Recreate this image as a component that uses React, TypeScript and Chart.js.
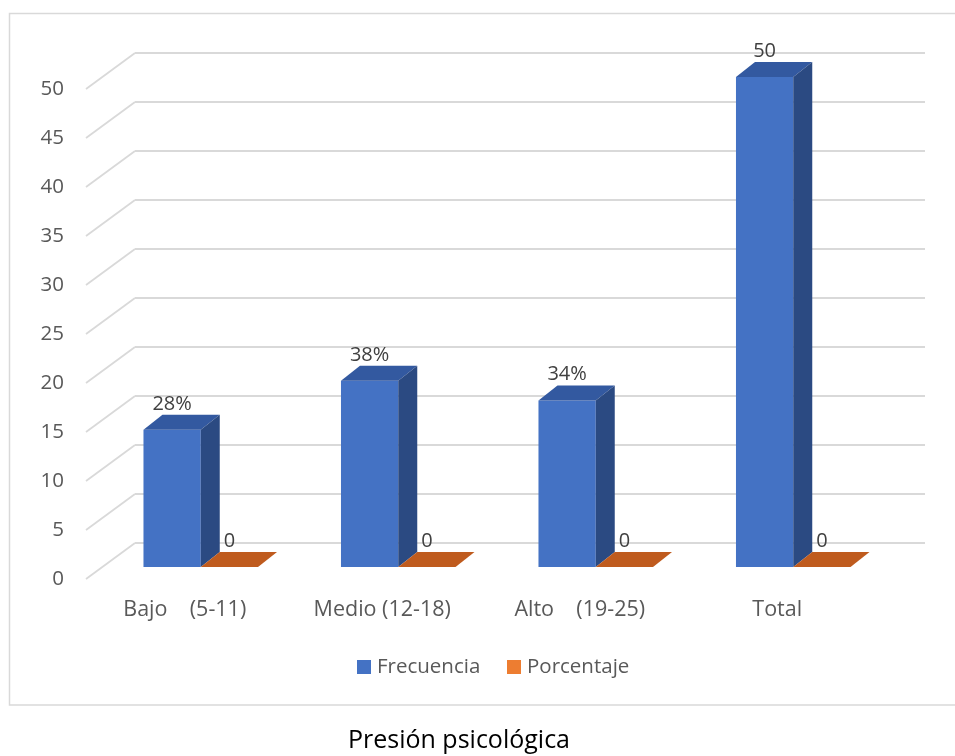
import React, { useEffect, useRef } from "react";
import { Chart, registerables } from "chart.js";

Chart.register(...registerables);

// Chart data
const categories = ["Bajo    (5-11)", "Medio (12-18)", "Alto    (19-25)", "Total"];
const frecuencia = [14, 19, 17, 50];
const porcentaje = [0, 0, 0, 0];
const yTicks = [0, 5, 10, 15, 20, 25, 30, 35, 40, 45, 50];
const seriesNames = ["Frecuencia", "Porcentaje"];
const chartTitle = "Presión psicológica";

const W = 955;
const H = 756;
const FONT = "'Open Sans', 'Noto Sans', sans-serif";

// 3D geometry: offsets of the front floor edge and back wall relative to the bar plane
const FRONT = { dx: -16, dy: 12 };
const BACK = { dx: 33, dy: -24 };
const BAR_DEPTH = { dx: 19, dy: 15 };

const COLORS = {
  blueFront: "#4472C4",
  blueTop: "#3359A0",
  blueSide: "#2B4A82",
  orangeFront: "#ED7D31",
  orangeTop: "#BF5B1E",
  grid: "#D9D9D9",
  tick: "#595959",
  label: "#404040",
};

const pct = (v: number, total: number) => `${Math.round((v / total) * 100)}%`;

const threeD = {
  id: "threeD",
  beforeDatasetsDraw(chart: any) {
    const { ctx, chartArea } = chart;
    const y = chart.scales.y;
    ctx.save();
    // outer frame
    ctx.strokeStyle = COLORS.grid;
    ctx.lineWidth = 1.5;
    ctx.strokeRect(9.5, 13.5, 1000, 691.5);

    // back wall grid and side wall lines
    ctx.lineWidth = 1.8;
    for (const t of yTicks) {
      const py = y.getPixelForValue(t);
      ctx.beginPath();
      ctx.moveTo(chartArea.left + BACK.dx, py + BACK.dy);
      ctx.lineTo(chartArea.right + BACK.dx, py + BACK.dy);
      ctx.stroke();
      ctx.beginPath();
      ctx.moveTo(chartArea.left + FRONT.dx, py + FRONT.dy);
      ctx.lineTo(chartArea.left + BACK.dx, py + BACK.dy);
      ctx.stroke();
    }

    // tick labels
    ctx.fillStyle = COLORS.tick;
    ctx.font = `20.5px ${FONT}`;
    ctx.textAlign = "right";
    ctx.textBaseline = "middle";
    for (const t of yTicks) {
      const py = y.getPixelForValue(t);
      ctx.fillText(String(t), chartArea.left - 38, py + FRONT.dy);
    }
    ctx.restore();
  },
  afterDatasetsDraw(chart: any) {
    const { ctx } = chart;
    const x = chart.scales.x;
    const total = frecuencia[frecuencia.length - 1];
    ctx.save();
    chart.data.datasets.forEach((ds: any, di: number) => {
      const meta = chart.getDatasetMeta(di);
      meta.data.forEach((bar: any, i: number) => {
        const left = bar.x - bar.width / 2;
        const right = bar.x + bar.width / 2;
        const top = bar.y;
        const base = bar.base;
        const { dx, dy } = BAR_DEPTH;
        const isBlue = di === 0;
        // top face
        ctx.fillStyle = isBlue ? COLORS.blueTop : COLORS.orangeTop;
        ctx.beginPath();
        ctx.moveTo(left, top);
        ctx.lineTo(right, top);
        ctx.lineTo(right + dx, top - dy);
        ctx.lineTo(left + dx, top - dy);
        ctx.closePath();
        ctx.fill();
        // side face
        if (base - top > 0.5) {
          ctx.fillStyle = COLORS.blueSide;
          ctx.beginPath();
          ctx.moveTo(right, top);
          ctx.lineTo(right + dx, top - dy);
          ctx.lineTo(right + dx, base - dy);
          ctx.lineTo(right, base);
          ctx.closePath();
          ctx.fill();
        }
        // value label
        const v = ds.data[i];
        const text = isBlue && i < ds.data.length - 1 ? pct(v, total) : String(v);
        ctx.fillStyle = COLORS.label;
        ctx.font = `20px ${FONT}`;
        ctx.textAlign = "center";
        ctx.textBaseline = "middle";
        ctx.fillText(text, bar.x, top - dy - 11);
      });
    });

    // category labels at the front floor edge
    ctx.fillStyle = COLORS.tick;
    ctx.font = `21.5px ${FONT}`;
    ctx.textAlign = "center";
    ctx.textBaseline = "middle";
    categories.forEach((c, i) => {
      ctx.fillText(c, x.getPixelForValue(i) + FRONT.dx, 610);
    });

    // legend
    const legendY = 667;
    const items = [
      { name: seriesNames[0], color: COLORS.blueFront, x: 357 },
      { name: seriesNames[1], color: COLORS.orangeFront, x: 507 },
    ];
    ctx.font = `20.5px ${FONT}`;
    ctx.textAlign = "left";
    for (const it of items) {
      ctx.fillStyle = it.color;
      ctx.fillRect(it.x, legendY - 7, 14, 14);
      ctx.fillStyle = COLORS.tick;
      ctx.fillText(it.name, it.x + 20, legendY);
    }

    // caption below the frame
    ctx.fillStyle = "#000000";
    ctx.font = `25px ${FONT}`;
    ctx.textAlign = "center";
    ctx.fillText(chartTitle, 459, 741);
    ctx.restore();
  },
};

export default function App() {
  const ref = useRef<HTMLCanvasElement | null>(null);

  useEffect(() => {
    if (!ref.current) return;
    const chart = new Chart(ref.current, {
      type: "bar",
      data: {
        labels: categories,
        datasets: [
          {
            label: seriesNames[0],
            data: frecuencia,
            backgroundColor: COLORS.blueFront,
            barPercentage: 1,
            categoryPercentage: 0.58,
          },
          {
            label: seriesNames[1],
            data: porcentaje,
            backgroundColor: COLORS.orangeFront,
            barPercentage: 1,
            categoryPercentage: 0.58,
          },
        ],
      },
      options: {
        animation: false,
        responsive: false,
        devicePixelRatio: 1,
        layout: { padding: { left: 102, right: 63, top: 77, bottom: 189 } },
        plugins: {
          legend: { display: false },
          tooltip: { enabled: false },
          title: { display: false },
        },
        scales: {
          x: { display: false, offset: true },
          y: { display: false, min: 0, max: 50 },
        },
      },
      plugins: [threeD],
    });
    return () => chart.destroy();
  }, []);

  return (
    <div style={{ position: "fixed", left: 0, top: 0, width: W, height: H, background: "#fff" }}>
      <canvas ref={ref} width={W} height={H} style={{ display: "block" }} />
    </div>
  );
}
